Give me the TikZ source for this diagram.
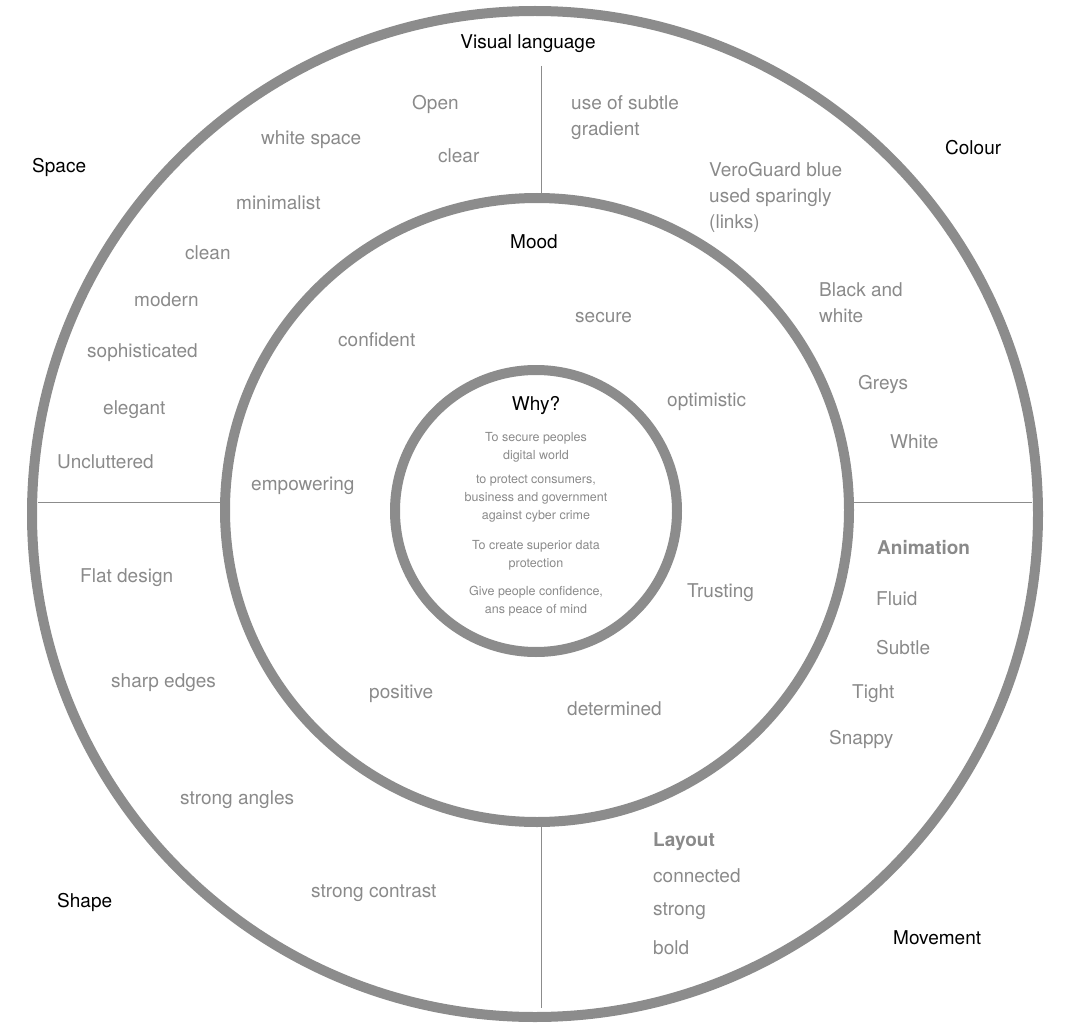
\documentclass[tikz,border=0pt]{standalone}
\usepackage{fontspec}
\setmainfont{TeX Gyre Heros}
\definecolor{ringgray}{HTML}{8C8C8C}
\definecolor{wordgray}{HTML}{8A8A8A}
\tikzset{
  ring/.style = {draw = ringgray, line width = 10pt},
  divider/.style = {draw = ringgray, line width = 1pt},
  heading/.style = {font = \fontsize{19}{22}\selectfont, text = black, inner sep = 0},
  word/.style = {font = \fontsize{19}{26}\selectfont, text = wordgray, anchor = west, inner sep = 0, align = left},
  boldword/.style = {word, font = \fontsize{19}{26}\selectfont\bfseries},
  why/.style = {font = \fontsize{12.5}{18}\selectfont, text = wordgray, inner sep = 0, align = center}
}
\begin{document}
\begin{tikzpicture}[x = 1pt, y = -1pt]
  \useasboundingbox (0, 0) rectangle (1080, 1030);
\draw[ring] (535, 514) circle (503);
\draw[ring] (537, 510) circle (312);
\draw[ring] (536, 511) circle (141);
\coordinate (vt1) at (541, 66);   \coordinate (vt2) at (541, 198);
\coordinate (vb1) at (541, 822);  \coordinate (vb2) at (541, 1008);
\coordinate (hl1) at (38, 502);   \coordinate (hl2) at (225, 502);
\coordinate (hr1) at (849, 502);  \coordinate (hr2) at (1032, 502);
\draw[divider] (vt1) -- (vt2);
\draw[divider] (vb1) -- (vb2);
\draw[divider] (hl1) -- (hl2);
\draw[divider] (hr1) -- (hr2);
% headings
\node[heading] (visual) at (528, 44) {Visual language};
\node[heading, anchor = west] (space) at (32, 167) {Space};
\node[heading, anchor = west] (colour) at (945, 148) {Colour};
\node[heading, anchor = west] (shape) at (57, 902) {Shape};
\node[heading, anchor = west] (movement) at (893, 938) {Movement};
\node[heading] (mood) at (534, 242) {Mood};
\node[heading] (whyq) at (536, 406) {Why?};
% space
\node[word] (open) at (412, 104) {Open};
\node[word] (white) at (261, 140) {white space};
\node[word] (clear) at (438, 156) {clear};
\node[word] (minimal) at (236, 203) {minimalist};
\node[word] (clean) at (185, 253) {clean};
\node[word] (modern) at (134, 300) {modern};
\node[word] (sophis) at (87, 353) {sophisticated};
\node[word] (elegant) at (103, 410) {elegant};
\node[word] (unclut) at (57, 462) {Uncluttered};
% colour
\node[word] (gradient) at (571, 118) {use of subtle\\gradient};
\node[word] (blue) at (709, 197) {VeroGuard blue\\used sparingly\\(links)};
\node[word] (blackwhite) at (819, 303) {Black and\\white};
\node[word] (greys) at (858, 384) {Greys};
\node[word] (whitec) at (890, 442) {White};
% movement
\node[boldword] (anim) at (877, 548) {Animation};
\node[word] (fluid) at (876, 599) {Fluid};
\node[word] (subtle) at (876, 648) {Subtle};
\node[word] (tight) at (852, 694) {Tight};
\node[word] (snappy) at (829, 739) {Snappy};
\node[boldword] (layout) at (653, 842) {Layout};
\node[word] (connected) at (653, 876) {connected};
\node[word] (strong) at (653, 911) {strong};
\node[word] (bold) at (653, 948) {bold};
% shape
\node[word] (flat) at (80, 578) {Flat design};
\node[word] (sharp) at (111, 683) {sharp edges};
\node[word] (angles) at (180, 800) {strong angles};
\node[word] (contrast) at (311, 893) {strong contrast};
% mood
\node[word] (confident) at (338, 340) {confident};
\node[word] (secure) at (575, 318) {secure};
\node[word] (optimistic) at (667, 402) {optimistic};
\node[word] (empower) at (251, 486) {empowering};
\node[word] (trusting) at (687, 593) {Trusting};
\node[word] (positive) at (369, 694) {positive};
\node[word] (determined) at (567, 709) {determined};
% why
\node[why] (why1) at (536, 447) {To secure peoples\\digital world};
\node[why] (why2) at (536, 499) {to protect consumers,\\business and government\\against cyber crime};
\node[why] (why3) at (536, 555) {To create superior data\\protection};
\node[why] (why4) at (536, 601) {Give people confidence,\\ans peace of mind};
\end{tikzpicture}
\end{document}
